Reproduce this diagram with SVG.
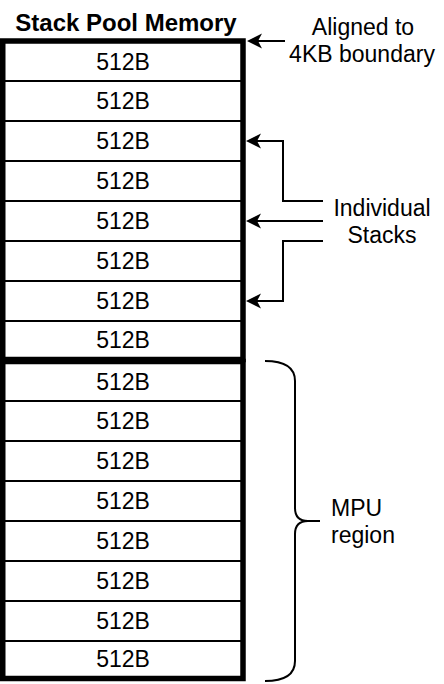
<svg xmlns="http://www.w3.org/2000/svg" width="444" height="684" viewBox="0 0 444 684">
  <style>
    .row { fill: #ffffff; stroke: #000000; stroke-width: 2; }
    .outer { fill: none; stroke: #000000; stroke-width: 5.5; }
    .lbl { font-family: "Liberation Sans", Arial, sans-serif; font-size: 23px; fill: #000000; }
    .mid { text-anchor: middle; }
    .title { font-family: "Liberation Sans", Arial, sans-serif; font-size: 24px; font-weight: bold; fill: #000000; text-anchor: middle; }
    .conn { fill: none; stroke: #000000; stroke-width: 2; }
  </style>
  <defs>
    <marker id="arrow" markerUnits="userSpaceOnUse" markerWidth="16" markerHeight="16" viewBox="0 -8 16 16" refX="4" refY="0" orient="auto" overflow="visible">
      <path d="M0,-7.5 L15,0 L0,7.5 L4,0 Z" fill="#000000"/>
    </marker>
  </defs>
  <rect width="444" height="684" fill="#ffffff"/>

  <g id="title">
    <text class="title" x="126" y="31">Stack Pool Memory</text>
  </g>

  <g id="pool-upper">
    <g id="row-1"><rect class="row" x="3" y="41" width="240" height="40"/><text class="lbl mid" x="123" y="70">512B</text></g>
    <g id="row-2"><rect class="row" x="3" y="81" width="240" height="40"/><text class="lbl mid" x="123" y="109">512B</text></g>
    <g id="row-3"><rect class="row" x="3" y="121" width="240" height="40"/><text class="lbl mid" x="123" y="149">512B</text></g>
    <g id="row-4"><rect class="row" x="3" y="161" width="240" height="40"/><text class="lbl mid" x="123" y="189">512B</text></g>
    <g id="row-5"><rect class="row" x="3" y="201" width="240" height="40"/><text class="lbl mid" x="123" y="229">512B</text></g>
    <g id="row-6"><rect class="row" x="3" y="241" width="240" height="40"/><text class="lbl mid" x="123" y="269">512B</text></g>
    <g id="row-7"><rect class="row" x="3" y="281" width="240" height="40"/><text class="lbl mid" x="123" y="309">512B</text></g>
    <g id="row-8"><rect class="row" x="3" y="321" width="240" height="40"/><text class="lbl mid" x="123" y="348">512B</text></g>
    <rect class="outer" x="2.75" y="41" width="240.25" height="318.5"/>
  </g>

  <g id="pool-lower">
    <g id="row-9"><rect class="row" x="3" y="361" width="240" height="40"/><text class="lbl mid" x="123" y="390">512B</text></g>
    <g id="row-10"><rect class="row" x="3" y="401" width="240" height="40"/><text class="lbl mid" x="123" y="429">512B</text></g>
    <g id="row-11"><rect class="row" x="3" y="441" width="240" height="40"/><text class="lbl mid" x="123" y="469">512B</text></g>
    <g id="row-12"><rect class="row" x="3" y="481" width="240" height="40"/><text class="lbl mid" x="123" y="509">512B</text></g>
    <g id="row-13"><rect class="row" x="3" y="521" width="240" height="40"/><text class="lbl mid" x="123" y="549">512B</text></g>
    <g id="row-14"><rect class="row" x="3" y="561" width="240" height="40"/><text class="lbl mid" x="123" y="589">512B</text></g>
    <g id="row-15"><rect class="row" x="3" y="601" width="240" height="40"/><text class="lbl mid" x="123" y="629">512B</text></g>
    <g id="row-16"><rect class="row" x="3" y="641" width="240" height="38"/><text class="lbl mid" x="123" y="667">512B</text></g>
    <rect class="outer" x="2.75" y="361.5" width="240.25" height="317"/>
  </g>

  <g id="label-aligned">
    <text class="lbl mid" x="363" y="35">Aligned to</text>
    <text class="lbl mid" x="362" y="62">4KB boundary</text>
  </g>

  <g id="label-individual">
    <text class="lbl mid" x="382" y="216">Individual</text>
    <text class="lbl mid" x="382" y="243">Stacks</text>
  </g>

  <g id="label-mpu">
    <text class="lbl" x="331" y="516">MPU</text>
    <text class="lbl" x="331" y="543">region</text>
  </g>

  <g id="connectors">
    <path class="conn" d="M285,41 L258,41" marker-end="url(#arrow)"/>
    <path class="conn" d="M323,201 L283,201 L283,141 L257,141" marker-end="url(#arrow)"/>
    <path class="conn" d="M323,221 L257,221" marker-end="url(#arrow)"/>
    <path class="conn" d="M323,241 L283,241 L283,301 L257,301" marker-end="url(#arrow)"/>
    <path id="brace" class="conn" d="M265,361 Q295,361 295,381 L295,508 Q295,521 308,521 L320,521 M308,521 Q295,521 295,534 L295,661 Q295,681 265,681"/>
  </g>
</svg>
